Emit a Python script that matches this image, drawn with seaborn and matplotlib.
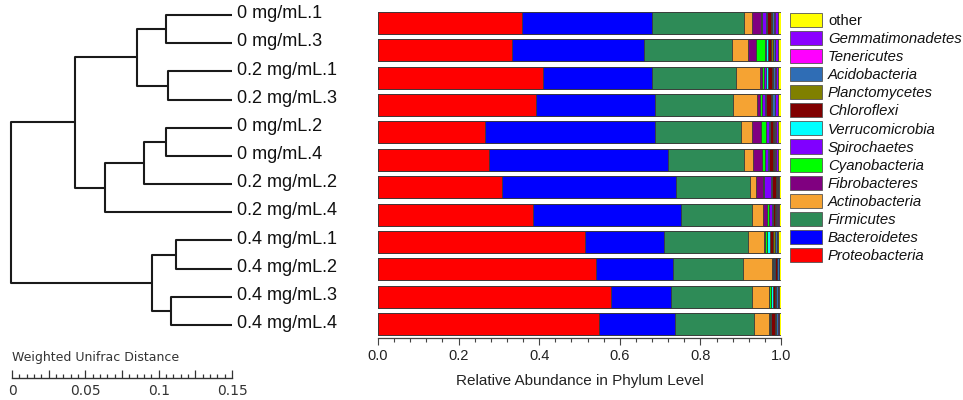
import numpy as np
import pandas as pd
import matplotlib
matplotlib.use("Agg")
import matplotlib.pyplot as plt
from matplotlib.patches import Patch
from matplotlib.ticker import MultipleLocator, FixedLocator
import seaborn as sns

# ---------------- data ----------------
samples = ["0 mg/mL.1", "0 mg/mL.3", "0.2 mg/mL.1", "0.2 mg/mL.3",
           "0 mg/mL.2", "0 mg/mL.4", "0.2 mg/mL.2", "0.2 mg/mL.4",
           "0.4 mg/mL.1", "0.4 mg/mL.2", "0.4 mg/mL.3", "0.4 mg/mL.4"]

phyla = ["Proteobacteria", "Bacteroidetes", "Firmicutes", "Actinobacteria",
         "Fibrobacteres", "Cyanobacteria", "Spirochaetes", "Verrucomicrobia",
         "Chloroflexi", "Planctomycetes", "Acidobacteria", "Tenericutes",
         "Gemmatimonadetes", "other"]

proteobacteria   = [0.357, 0.333, 0.410, 0.393, 0.265, 0.275, 0.308, 0.384, 0.514, 0.541, 0.577, 0.548]
bacteroidetes    = [0.322, 0.328, 0.269, 0.294, 0.422, 0.444, 0.431, 0.368, 0.195, 0.192, 0.150, 0.188]
firmicutes       = [0.228, 0.218, 0.209, 0.195, 0.214, 0.188, 0.184, 0.175, 0.208, 0.172, 0.201, 0.196]
actinobacteria   = [0.022, 0.038, 0.060, 0.058, 0.026, 0.024, 0.015, 0.028, 0.042, 0.072, 0.041, 0.038]
fibrobacteres    = [0.021, 0.020, 0.006, 0.008, 0.023, 0.021, 0.017, 0.010, 0.002, 0.001, 0.001, 0.001]
cyanobacteria    = [0.004, 0.023, 0.004, 0.004, 0.014, 0.008, 0.002, 0.005, 0.004, 0.003, 0.004, 0.001]
spirochaetes     = [0.010, 0.004, 0.004, 0.008, 0.006, 0.008, 0.018, 0.008, 0.001, 0.001, 0.001, 0.001]
verrucomicrobia  = [0.002, 0.004, 0.005, 0.004, 0.002, 0.003, 0.002, 0.002, 0.007, 0.003, 0.005, 0.002]
chloroflexi      = [0.008, 0.008, 0.010, 0.010, 0.007, 0.008, 0.010, 0.006, 0.008, 0.004, 0.006, 0.010]
planctomycetes   = [0.004, 0.004, 0.003, 0.004, 0.003, 0.003, 0.002, 0.002, 0.003, 0.002, 0.002, 0.002]
acidobacteria    = [0.004, 0.004, 0.006, 0.006, 0.004, 0.004, 0.003, 0.003, 0.005, 0.003, 0.004, 0.006]
tenericutes      = [0.002, 0.002, 0.002, 0.002, 0.002, 0.002, 0.001, 0.001, 0.001, 0.001, 0.001, 0.001]
gemmatimonadetes = [0.008, 0.006, 0.004, 0.006, 0.004, 0.004, 0.003, 0.003, 0.002, 0.001, 0.001, 0.001]
other            = [0.008, 0.008, 0.008, 0.008, 0.008, 0.008, 0.004, 0.005, 0.008, 0.004, 0.006, 0.005]

colors = ["#FF0000", "#0000FF", "#2E8B57", "#F5A333", "#800080", "#00FF00",
          "#8000FF", "#00FFFF", "#800000", "#808000", "#2F6DB5", "#FF00FF",
          "#8B00FF", "#FFFF00"]

# dendrogram merges: leaves 0..11 in display order, new nodes numbered from 12
merge_a = [0, 2, 12, 4, 15, 16, 14, 8, 10, 19, 18]
merge_b = [1, 3, 13, 5, 6, 7, 17, 9, 11, 20, 21]
merge_h = [0.0450, 0.0436, 0.0648, 0.0450, 0.0600, 0.0866, 0.1070, 0.0382, 0.0416, 0.0545, 0.1507]

scale_major = [0, 0.025, 0.05, 0.075, 0.1, 0.125, 0.15]
scale_labels = ["0", "", "0.05", "", "0.1", "", "0.15"]

# ---------------- style ----------------
sns.set_theme(style="white")
plt.rcParams["font.family"] = ["Liberation Sans", "DejaVu Sans"]

W, H = 963, 400
fig = plt.figure(figsize=(W / 100, H / 100), dpi=100)

def rect(x0, y0, x1, y1):
    return [x0 / W, 1 - y1 / H, (x1 - x0) / W, (y1 - y0) / H]

# ---------------- stacked bars ----------------
ax = fig.add_axes(rect(378, 9, 781, 338))
values = [proteobacteria, bacteroidetes, firmicutes, actinobacteria, fibrobacteres,
          cyanobacteria, spirochaetes, verrucomicrobia, chloroflexi, planctomycetes,
          acidobacteria, tenericutes, gemmatimonadetes, other]
cum = np.cumsum(np.array(values), axis=0)
for k in range(len(phyla) - 1, -1, -1):
    df = pd.DataFrame({"sample": samples, "cum": cum[k]})
    sns.barplot(data=df, x="cum", y="sample", order=samples, orient="h",
                color=colors[k], saturation=1, width=0.8, errorbar=None,
                edgecolor="#3a3a3a", linewidth=0.6, ax=ax)
ax.set_xlim(0, 1.0)
ax.set_ylim(len(samples) - 0.5, -0.5)
ax.set_yticks([])
ax.set_ylabel("")
for s in ["left", "top", "right"]:
    ax.spines[s].set_visible(False)
ax.spines["bottom"].set_color("#444444")
ax.spines["bottom"].set_linewidth(0.9)
ax.set_xticks([0, 0.2, 0.4, 0.6, 0.8, 1.0])
ax.set_xticklabels(["0.0", "0.2", "0.4", "0.6", "0.8", "1.0"])
ax.xaxis.set_minor_locator(MultipleLocator(0.04))
ax.tick_params(axis="x", which="both", bottom=True, direction="out", color="#444444", width=0.8)
ax.tick_params(axis="x", which="major", length=5, labelsize=10.5, pad=3, labelcolor="#222222")
ax.tick_params(axis="x", which="minor", length=3)
ax.set_xlabel("Relative Abundance in Phylum Level", fontsize=11, labelpad=8, color="#222222")

# ---------------- legend ----------------
handles = [Patch(facecolor=colors[k], edgecolor="#555555", linewidth=0.6)
           for k in range(len(phyla) - 1, -1, -1)]
labels = [phyla[k] for k in range(len(phyla) - 1, -1, -1)]
leg = fig.legend(handles, labels, loc="upper left",
                 bbox_to_anchor=(790 / W, 1 - 13 / H), bbox_transform=fig.transFigure,
                 frameon=False, borderpad=0, borderaxespad=0,
                 handlelength=2.15, handleheight=1.08, handletextpad=0.4,
                 labelspacing=0.2, prop={"size": 10.7})
for t in leg.get_texts():
    t.set_color("#111111")
    if t.get_text() != "other":
        t.set_fontstyle("italic")

# ---------------- dendrogram ----------------
axd = fig.add_axes(rect(12, 1, 232, 339))
axd.set_xlim(0.15, 0)
axd.set_ylim(len(samples) - 0.5, -0.5)
axd.axis("off")
node_y = {i: float(i) for i in range(len(samples))}
node_h = {i: 0.0 for i in range(len(samples))}
lc = "#1a1a1a"
for j, (a, b, h) in enumerate(zip(merge_a, merge_b, merge_h)):
    nid = len(samples) + j
    ya, yb = node_y[a], node_y[b]
    axd.plot([node_h[a], h, h, node_h[b]], [ya, ya, yb, yb], color=lc, lw=1.5,
             solid_joinstyle="round", solid_capstyle="butt", clip_on=False)
    node_y[nid] = (ya + yb) / 2
    node_h[nid] = h
for i, s in enumerate(samples):
    axd.annotate(s, xy=(0, i), xytext=(3.5, 1), textcoords="offset points",
                 va="center", ha="left", fontsize=13, color="#111111",
                 annotation_clip=False)

# ---------------- scale bar ----------------
axs = fig.add_axes(rect(12, 350, 232, 378))
axs.set_xlim(0, 0.15)
axs.set_ylim(0, 1)
axs.patch.set_alpha(0)
axs.set_yticks([])
for s in ["left", "top", "right"]:
    axs.spines[s].set_visible(False)
axs.spines["bottom"].set_color("#333333")
axs.spines["bottom"].set_linewidth(1.0)
axs.xaxis.set_major_locator(FixedLocator(scale_major))
axs.set_xticklabels(scale_labels)
axs.xaxis.set_minor_locator(MultipleLocator(0.005))
axs.tick_params(axis="x", which="both", bottom=True, direction="in", color="#333333", width=0.9)
axs.tick_params(axis="x", which="major", length=6, pad=4, labelsize=10, labelcolor="#333333")
axs.tick_params(axis="x", which="minor", length=3)
for t in axs.get_xticklabels():
    t.set_family(["DejaVu Sans"])
axs.text(0, 0.72, "Weighted Unifrac Distance", transform=axs.transAxes,
         ha="left", va="center", fontsize=9, color="#333333", family=["DejaVu Sans"])

fig.savefig("out.png", dpi=100)
